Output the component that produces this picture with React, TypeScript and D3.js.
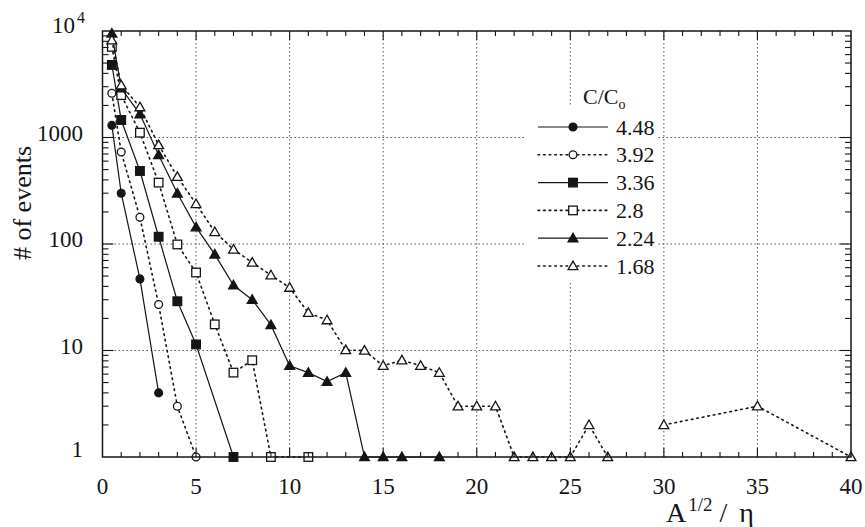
import React from "react";
import * as d3 from "d3";

const xTicks = [0, 5, 10, 15, 20, 25, 30, 35, 40];
const yTickLabels = ["1", "10", "100", "1000"];

const legendLabels = ["4.48", "3.92", "3.36", "2.8", "2.24", "1.68"];

const x448 = [0.5, 1, 2, 3];
const y448 = [1300, 300, 47, 4];

const x392 = [0.5, 1, 2, 3, 4, 5];
const y392 = [2600, 730, 178, 27, 3, 1];

const x336 = [0.5, 1, 2, 3, 4, 5, 7];
const y336 = [4800, 1460, 485, 117, 29, 11.4, 1];

const x28 = [0.5, 1, 2, 3, 4, 5, 6, 7, 8, 9, 11];
const y28 = [7100, 2500, 1110, 377, 99, 54, 17.6, 6.2, 8.1, 1, 1];

const x224 = [0.5, 1, 2, 3, 4, 5, 6, 7, 8, 9, 10, 11, 12, 13, 14, 15, 16, 18];
const y224 = [9500, 2900, 1660, 685, 299, 144, 80, 41, 30, 17.4, 7.2, 6.2, 5.1, 6.2, 1, 1, 1, 1];

const x168 = [0.5, 1, 2, 3, 4, 5, 6, 7, 8, 9, 10, 11, 12, 13, 14, 15, 16, 17, 18, 19, 20, 21, 22, 23, 24, 25, 26, 27, 28, 29, 30, 35, 40];
const y168 = [8200, 3100, 1930, 850, 428, 238, 130, 89, 67, 51, 39, 22.6, 19.3, 10.1, 10, 7.2, 8.1, 7.2, 6.2, 3, 3, 3, 1, 1, 1, 1, 2, 1, 0, 0, 2, 3, 1];

type Marker = "circle" | "square" | "triangle";
const seriesList: { label: string; xs: number[]; ys: number[]; marker: Marker; filled: boolean; dotted: boolean }[] = [
  { label: legendLabels[0], xs: x448, ys: y448, marker: "circle", filled: true, dotted: false },
  { label: legendLabels[1], xs: x392, ys: y392, marker: "circle", filled: false, dotted: true },
  { label: legendLabels[2], xs: x336, ys: y336, marker: "square", filled: true, dotted: false },
  { label: legendLabels[3], xs: x28, ys: y28, marker: "square", filled: false, dotted: true },
  { label: legendLabels[4], xs: x224, ys: y224, marker: "triangle", filled: true, dotted: false },
  { label: legendLabels[5], xs: x168, ys: y168, marker: "triangle", filled: false, dotted: true },
];

const FONT = "'Liberation Serif', 'DejaVu Serif', serif";
const INK = "#151515";

function MarkerShape({ cx, cy, marker, filled }: { cx: number; cy: number; marker: Marker; filled: boolean }) {
  const fill = filled ? INK : "#fff";
  const sw = 1.3;
  if (marker === "circle") return <circle cx={cx} cy={cy} r={3.9} fill={fill} stroke={INK} strokeWidth={sw} />;
  if (marker === "square") return <rect x={cx - 4.3} y={cy - 4.3} width={8.6} height={8.6} fill={fill} stroke={INK} strokeWidth={sw} />;
  const s = 4.9;
  const p = `M${cx},${cy - s} L${cx + s},${cy + s * 0.75} L${cx - s},${cy + s * 0.75} Z`;
  return <path d={p} fill={fill} stroke={INK} strokeWidth={sw} strokeLinejoin="miter" />;
}

export default function App() {
  const W = 865, H = 527;
  const left = 102.5, right = 851, top = 31, bottom = 457;
  const x = d3.scaleLinear().domain([0, 40]).range([left, right]);
  const y = d3.scaleLog().domain([1, 1e4]).range([bottom, top]);

  const minorX = d3.range(1, 40);
  const minorY: number[] = [];
  [1, 10, 100, 1000].forEach((d) => {
    for (let k = 2; k <= 9; k++) minorY.push(d * k);
  });

  const line = d3
    .line<[number, number]>()
    .defined((d) => d[1] > 0)
    .x((d) => x(d[0]))
    .y((d) => y(d[1]));

  const legX0 = 538, legX1 = 608, legMx = 573, legTx = 616;
  const legY0 = 127, legDy = 27.8;

  return (
    <svg width={W} height={H} style={{ position: "absolute", left: 0, top: 0, background: "#fff" }} fontFamily={FONT}>
      <rect x={0} y={0} width={W} height={H} fill="#fff" />
      {/* grid */}
      <g stroke="#444" strokeWidth={0.9} strokeDasharray="1.5,2.5">
        {xTicks.slice(1, -1).map((t) => (
          <line key={"gx" + t} x1={x(t)} x2={x(t)} y1={top} y2={bottom} />
        ))}
        {[10, 100, 1000].map((t) => (
          <line key={"gy" + t} x1={left} x2={right} y1={y(t)} y2={y(t)} />
        ))}
      </g>
      {/* legend background */}
      <rect x={526} y={106} width={131} height={177} fill="#fff" />
      {/* series */}
      {seriesList.map((s) => {
        const pts: [number, number][] = s.xs.map((v, i) => [v, s.ys[i]]);
        return (
          <g key={s.label}>
            <path
              d={line(pts) || ""}
              fill="none"
              stroke={INK}
              strokeWidth={s.dotted ? 1.6 : 1.2}
              strokeDasharray={s.dotted ? "1.6,4" : undefined}
              strokeLinecap={s.dotted ? "round" : "butt"}
            />
            {pts
              .filter((p) => p[1] > 0)
              .map((p, i) => (
                <MarkerShape key={i} cx={x(p[0])} cy={y(p[1])} marker={s.marker} filled={s.filled} />
              ))}
          </g>
        );
      })}
      {/* frame */}
      <rect x={left} y={top} width={right - left} height={bottom - top} fill="none" stroke={INK} strokeWidth={1.5} />
      {/* ticks */}
      <g stroke={INK} strokeWidth={1.1}>
        {minorX.map((t) => {
          const len = t % 5 === 0 ? 9 : 5;
          return (
            <g key={"tx" + t}>
              <line x1={x(t)} x2={x(t)} y1={bottom} y2={bottom - len} />
              <line x1={x(t)} x2={x(t)} y1={top} y2={top + len} />
            </g>
          );
        })}
        {minorY.map((t) => (
          <g key={"ty" + t}>
            <line x1={left} x2={left + 6} y1={y(t)} y2={y(t)} />
            <line x1={right} x2={right - 6} y1={y(t)} y2={y(t)} />
          </g>
        ))}
        {[10, 100, 1000].map((t) => (
          <g key={"tyM" + t}>
            <line x1={left} x2={left + 11} y1={y(t)} y2={y(t)} />
            <line x1={right} x2={right - 11} y1={y(t)} y2={y(t)} />
          </g>
        ))}
      </g>
      {/* x tick labels */}
      <g fontSize={23} fill={INK} textAnchor="middle">
        {xTicks.map((t) => (
          <text key={"xl" + t} x={x(t)} y={494}>
            {t}
          </text>
        ))}
      </g>
      {/* y tick labels */}
      <g fontSize={23} fill={INK} textAnchor="end">
        {yTickLabels.map((lab, i) => (
          <text key={"yl" + lab} x={83} y={y(Math.pow(10, i)) + (i === 0 ? 0 : 3)}>
            {lab}
          </text>
        ))}
        <text x={75} y={y(1e4) + 2}>10</text>
        <text x={77} y={y(1e4) - 8} fontSize={16} textAnchor="start">4</text>
      </g>
      {/* axis titles */}
      <text transform={`translate(31,203) rotate(-90)`} textAnchor="middle" fontSize={26} fill={INK}>
        # of events
      </text>
      <text x={666} y={522} fontSize={28} fill={INK}>
        A
        <tspan fontSize={19} dy={-11} dx={2}>1/2</tspan>
        <tspan dy={11} dx={7}>/</tspan>
        <tspan dx={12}>η</tspan>
      </text>
      {/* legend */}
      <text x={583} y={104} fontSize={22} fill={INK}>
        C/C
        <tspan fontSize={14} dy={5}>o</tspan>
      </text>
      {seriesList.map((s, i) => {
        const ly = legY0 + i * legDy;
        return (
          <g key={"leg" + s.label}>
            <line
              x1={legX0}
              x2={legX1}
              y1={ly}
              y2={ly}
              stroke={INK}
              strokeWidth={s.dotted ? 1.6 : 1.2}
              strokeDasharray={s.dotted ? "1.6,4" : undefined}
              strokeLinecap={s.dotted ? "round" : "butt"}
            />
            <MarkerShape cx={legMx} cy={ly} marker={s.marker} filled={s.filled} />
            <text x={legTx} y={ly + 7.5} fontSize={22} fill={INK}>
              {s.label}
            </text>
          </g>
        );
      })}
    </svg>
  );
}
